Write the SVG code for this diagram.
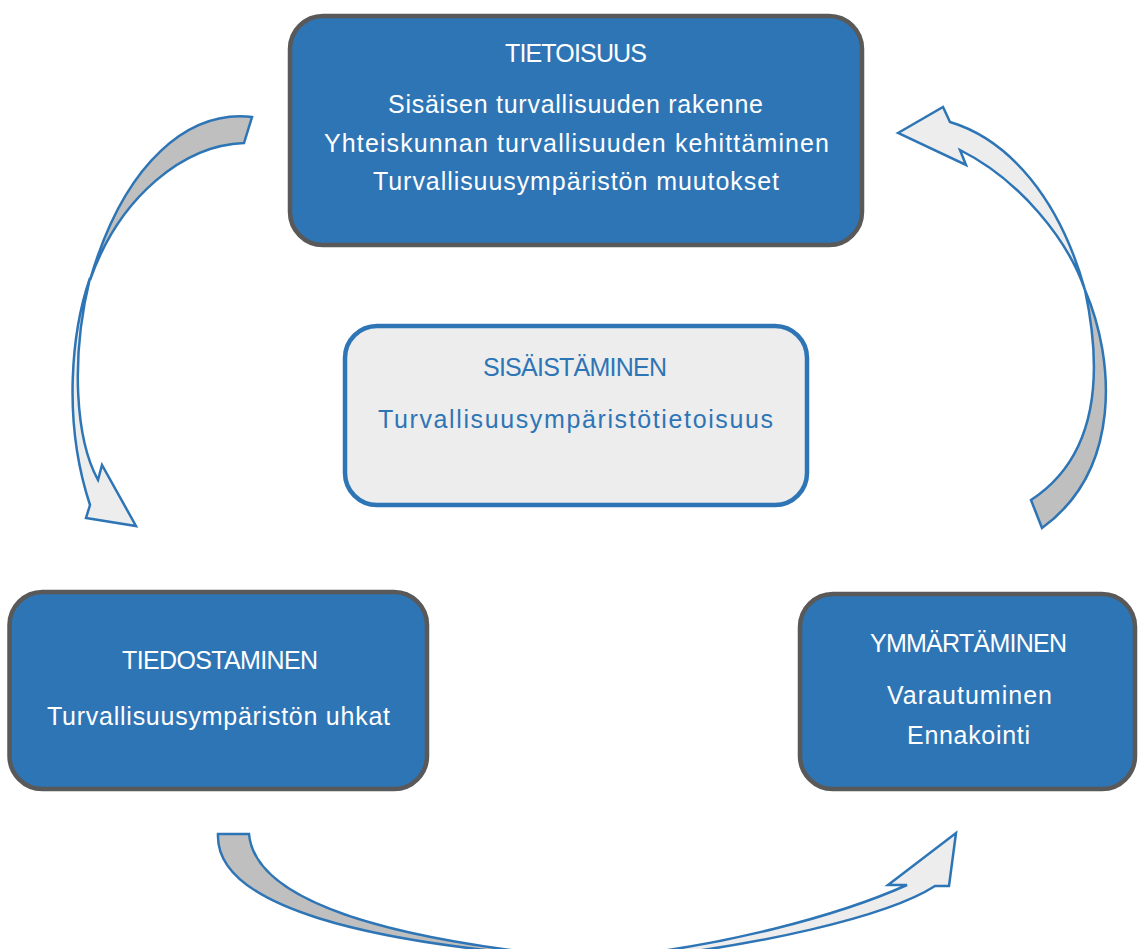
<svg xmlns="http://www.w3.org/2000/svg" width="1139" height="949" viewBox="0 0 1139 949">
<style>
.box{fill:#2E75B6;stroke:#595959;stroke-width:4.5}
.mid{fill:#EDEDED;stroke:#2E75B6;stroke-width:4.5}
text{font-family:"Liberation Sans",Arial,sans-serif;font-size:25px;text-anchor:middle}
.w{fill:#FFFFFF}
.b{fill:#2E75B6}
.dark{fill:#BFBFBF;stroke:#2E75B6;stroke-width:2.5;stroke-linejoin:miter}
.light{fill:#EDEDED;stroke:#2E75B6;stroke-width:2.5;stroke-linejoin:miter}
</style>
<rect width="1139" height="949" fill="#FFFFFF"/>
<g id="connectors">
  <g id="arrow-left">
    <path class="dark" d="M252,117 C190,110 125,160 90,280 C120,195 185,145 244,143 Z"/>
    <path class="light" d="M90,278 C72,330 62,420 90,505 L86,518 L136,526 L102,465 L98,480 C76,440 70,360 90,278 Z"/>
  </g>
  <g id="arrow-right">
    <path class="light" d="M898,133 L943,107 L950,122 C1010,140 1060,200 1085,290 C1068,240 1020,180 960,150 L966,165 Z"/>
    <path class="dark" d="M1085,290 C1115,360 1122,470 1042,528 L1031,500 C1100,455 1102,370 1085,290 Z"/>
  </g>
  <g id="arrow-bottom">
    <path class="dark" d="M218,834 C215,905 360,945 600,960 C380,940 255,900 249,834 Z"/>
    <path class="light" d="M600,958 C720,948 840,915 907,885 L888,885 L956,833 L949,886 L935,886 C890,915 760,948 600,962 Z"/>
  </g>
</g>
<g id="node-tietoisuus">
  <rect class="box" x="290" y="16" width="572" height="229" rx="33"/>
  <text class="w" x="576" y="62" textLength="142">TIETOISUUS</text>
  <text class="w" x="575.5" y="113" textLength="375">Sisäisen turvallisuuden rakenne</text>
  <text class="w" x="576.5" y="152" textLength="505">Yhteiskunnan turvallisuuden kehittäminen</text>
  <text class="w" x="576" y="190" textLength="406">Turvallisuusympäristön muutokset</text>
</g>
<g id="node-sisaistaminen">
  <rect class="mid" x="345" y="326" width="462" height="179" rx="32"/>
  <text class="b" x="575" y="376" textLength="184">SISÄISTÄMINEN</text>
  <text class="b" x="575.5" y="428" textLength="395">Turvallisuusympäristötietoisuus</text>
</g>
<g id="node-tiedostaminen">
  <rect class="box" x="9.5" y="592" width="417.5" height="197" rx="33"/>
  <text class="w" x="220" y="669" textLength="196">TIEDOSTAMINEN</text>
  <text class="w" x="218.5" y="725" textLength="343">Turvallisuusympäristön uhkat</text>
</g>
<g id="node-ymmartaminen">
  <rect class="box" x="800" y="594" width="335" height="195" rx="33"/>
  <text class="w" x="968.5" y="652" textLength="197">YMMÄRTÄMINEN</text>
  <text class="w" x="969.5" y="704" textLength="165">Varautuminen</text>
  <text class="w" x="968.5" y="744" textLength="123">Ennakointi</text>
</g>
</svg>
